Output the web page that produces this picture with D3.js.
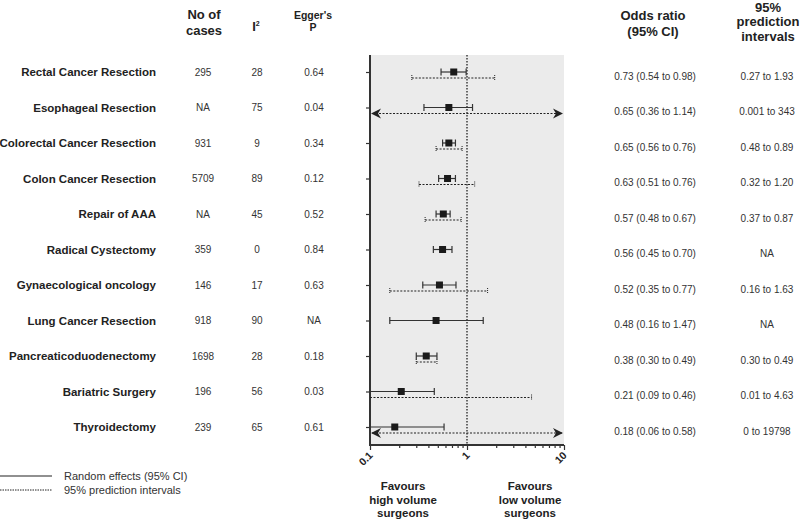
<!DOCTYPE html>
<html>
<head>
<meta charset="utf-8">
<script src="https://cdn.jsdelivr.net/npm/d3@7"></script>
<style>
body{margin:0;background:#fff;}
svg text{font-family:"Liberation Sans",Arial,Helvetica,sans-serif;}
</style>
</head>
<body>
<svg id="chart" width="800" height="519"></svg>
<script>
const categories = ["Rectal Cancer Resection","Esophageal Resection","Colorectal Cancer Resection","Colon Cancer Resection","Repair of AAA","Radical Cystectomy","Gynaecological oncology","Lung Cancer Resection","Pancreaticoduodenectomy","Bariatric Surgery","Thyroidectomy"];
const cases = ["295","NA","931","5709","NA","359","146","918","1698","196","239"];
const i2 = ["28","75","9","89","45","0","17","90","28","56","65"];
const egger = ["0.64","0.04","0.34","0.12","0.52","0.84","0.63","NA","0.18","0.03","0.61"];
const oddsRatio = [0.73,0.65,0.65,0.63,0.57,0.56,0.52,0.48,0.38,0.21,0.18];
const ciLow = [0.54,0.36,0.56,0.51,0.48,0.45,0.35,0.16,0.30,0.09,0.06];
const ciHigh = [0.98,1.14,0.76,0.76,0.67,0.70,0.77,1.47,0.49,0.46,0.58];
const piLow = [0.27,0.001,0.48,0.32,0.37,null,0.16,null,0.30,0.01,0];
const piHigh = [1.93,343,0.89,1.20,0.87,null,1.63,null,0.49,4.63,19798];
const piText = ["0.27 to 1.93","0.001 to 343","0.48 to 0.89","0.32 to 1.20","0.37 to 0.87","NA","0.16 to 1.63","NA","0.30 to 0.49","0.01 to 4.63","0 to 19798"];
const xTicks = [0.1,1,10];

const svg = d3.select("#chart");
const dark = "#222";
const numCol = "#333";

const x = d3.scaleLog().domain([0.1,10]).range([370,564]);
const y = d3.scalePoint().domain(categories).range([72,427]);
const panelTop = 55, panelBottom = 445;
const clampV = v => Math.max(0.1, Math.min(10, v));

// panel
svg.append("rect").attr("x",x(0.1)).attr("y",panelTop).attr("width",x(10)-x(0.1)).attr("height",panelBottom-panelTop).attr("fill","#ebebeb");

// reference line
svg.append("line").attr("x1",x(1)).attr("x2",x(1)).attr("y1",panelTop).attr("y2",panelBottom)
  .attr("stroke","#222").attr("stroke-width",1.3).attr("stroke-dasharray","1.5,1.5");

// left axis
const yAxis = d3.axisLeft(y).tickSize(4).tickFormat("");
const gy = svg.append("g").attr("transform",`translate(${x(0.1)},0)`).call(yAxis);
gy.select(".domain").remove();
gy.selectAll(".tick line").attr("stroke","#333").attr("stroke-width",1.2);
svg.append("line").attr("x1",x(0.1)).attr("x2",x(0.1)).attr("y1",panelTop).attr("y2",panelBottom+1)
  .attr("stroke","#333").attr("stroke-width",2);

// bottom axis
const minor = x.ticks().filter(t => !xTicks.includes(t));
const gxMinor = svg.append("g").attr("transform",`translate(0,${panelBottom})`)
  .call(d3.axisBottom(x).tickValues(minor).tickSize(3).tickFormat(""));
gxMinor.select(".domain").remove();
gxMinor.selectAll(".tick line").attr("stroke","#333").attr("stroke-width",1.2);
const gx = svg.append("g").attr("transform",`translate(0,${panelBottom})`)
  .call(d3.axisBottom(x).tickValues(xTicks).tickSize(5).tickFormat(d => d3.format("~g")(d)));
gx.select(".domain").remove();
gx.selectAll(".tick line").attr("stroke","#333").attr("stroke-width",1.2);
gx.selectAll(".tick text")
  .attr("font-size",10.5).attr("font-weight","bold").attr("fill",dark)
  .attr("text-anchor","end").attr("dy",0).attr("y",0)
  .attr("transform","translate(3,11) rotate(-45)");
svg.append("line").attr("x1",x(0.1)-1).attr("x2",x(10)).attr("y1",panelBottom).attr("y2",panelBottom)
  .attr("stroke","#333").attr("stroke-width",2);

const rows = categories.map((c,i)=>({c,i}));
const piOff = 6;

// prediction intervals
rows.filter(d => piLow[d.i] !== null).forEach(d => {
  const lo = piLow[d.i], hi = piHigh[d.i];
  const yy = y(d.c) + piOff;
  const both = lo < 0.1 && hi > 10;
  const x1 = x(clampV(Math.max(lo,1e-9))), x2 = x(clampV(hi));
  svg.append("line").attr("x1",x1+(both?2:0)).attr("x2",x2-(both?2:0)).attr("y1",yy).attr("y2",yy)
    .attr("stroke","#222").attr("stroke-width",1.2).attr("stroke-dasharray","2,1.5");
  if (both) {
    svg.append("path").attr("d",`M${x1+1},${yy} l10,-5 l-3,5 l3,5 Z`).attr("fill","#222");
    svg.append("path").attr("d",`M${x2-1},${yy} l-10,-5 l3,5 l-3,5 Z`).attr("fill","#222");
  } else {
    [[lo,x1],[hi,x2]].forEach(([v,px]) => {
      if (v >= 0.1 && v <= 10) {
        svg.append("line").attr("x1",px).attr("x2",px).attr("y1",yy-3).attr("y2",yy+3)
          .attr("stroke","#222").attr("stroke-width",1).attr("stroke-dasharray","1,1");
      }
    });
  }
});

// confidence intervals
rows.forEach(d => {
  const yy = y(d.c);
  const x1 = x(clampV(ciLow[d.i])), x2 = x(clampV(ciHigh[d.i]));
  svg.append("line").attr("x1",x1).attr("x2",x2).attr("y1",yy).attr("y2",yy).attr("stroke","#333").attr("stroke-width",1.2);
  [[ciLow[d.i],x1],[ciHigh[d.i],x2]].forEach(([v,px]) => {
    if (v >= 0.1 && v <= 10) {
      svg.append("line").attr("x1",px).attr("x2",px).attr("y1",yy-3.5).attr("y2",yy+3.5).attr("stroke","#333").attr("stroke-width",1.2);
    }
  });
  svg.append("rect").attr("x",x(oddsRatio[d.i])-3.5).attr("y",yy-3.5).attr("width",7).attr("height",7).attr("fill","#1a1a1a");
});

// tables
const lab = svg.append("g");
rows.forEach(d => {
  const yy = y(d.c);
  lab.append("text").attr("x",156).attr("y",yy).attr("dy","0.35em").attr("text-anchor","end")
    .attr("font-size",11.5).attr("font-weight","bold").attr("fill",dark).text(d.c);
  lab.append("text").attr("x",203).attr("y",yy).attr("dy","0.35em").attr("text-anchor","middle")
    .attr("font-size",10).attr("fill",numCol).text(cases[d.i]);
  lab.append("text").attr("x",257).attr("y",yy).attr("dy","0.35em").attr("text-anchor","middle")
    .attr("font-size",10).attr("fill",numCol).text(i2[d.i]);
  lab.append("text").attr("x",314).attr("y",yy).attr("dy","0.35em").attr("text-anchor","middle")
    .attr("font-size",10).attr("fill",numCol).text(egger[d.i]);
  lab.append("text").attr("x",655).attr("y",yy+4).attr("dy","0.35em").attr("text-anchor","middle")
    .attr("font-size",10).attr("fill",numCol)
    .text(`${d3.format(".2f")(oddsRatio[d.i])} (${d3.format(".2f")(ciLow[d.i])} to ${d3.format(".2f")(ciHigh[d.i])})`);
  lab.append("text").attr("x",767).attr("y",yy+4).attr("dy","0.35em").attr("text-anchor","middle")
    .attr("font-size",10).attr("fill",numCol).text(piText[d.i]);
});

// headers
function multi(xc, ys, lines, size){
  lines.forEach((t,k)=>{
    svg.append("text").attr("x",xc).attr("y",ys[k]).attr("dy","0.35em").attr("text-anchor","middle")
      .attr("font-size",size).attr("font-weight","bold").attr("fill",dark).text(t);
  });
}
multi(204,[14,30],["No of","cases"],13);
const i2h = svg.append("text").attr("x",256).attr("y",26).attr("dy","0.35em").attr("text-anchor","middle")
  .attr("font-size",13).attr("font-weight","bold").attr("fill",dark);
i2h.append("tspan").text("I");
i2h.append("tspan").attr("font-size",7).attr("dy","-0.6em").text("2");
multi(313,[15,27],["Egger's","P"],10.5);
multi(653,[15,31],["Odds ratio","(95% CI)"],13);
multi(768,[7,21,36],["95%","prediction","intervals"],13);
multi(403,[486,500,513],["Favours","high volume","surgeons"],11.5);
multi(530,[486,500,513],["Favours","low volume","surgeons"],11.5);

// legend
svg.append("line").attr("x1",0).attr("x2",52).attr("y1",476).attr("y2",476).attr("stroke","#222").attr("stroke-width",1.2);
svg.append("line").attr("x1",0).attr("x2",52).attr("y1",490).attr("y2",490).attr("stroke","#222").attr("stroke-width",1).attr("stroke-dasharray","1.5,1");
svg.append("text").attr("x",64).attr("y",476).attr("dy","0.35em").attr("font-size",11).attr("fill",numCol).text("Random effects (95% CI)");
svg.append("text").attr("x",64).attr("y",490).attr("dy","0.35em").attr("font-size",11).attr("fill",numCol).text("95% prediction intervals");
</script>
</body>
</html>
